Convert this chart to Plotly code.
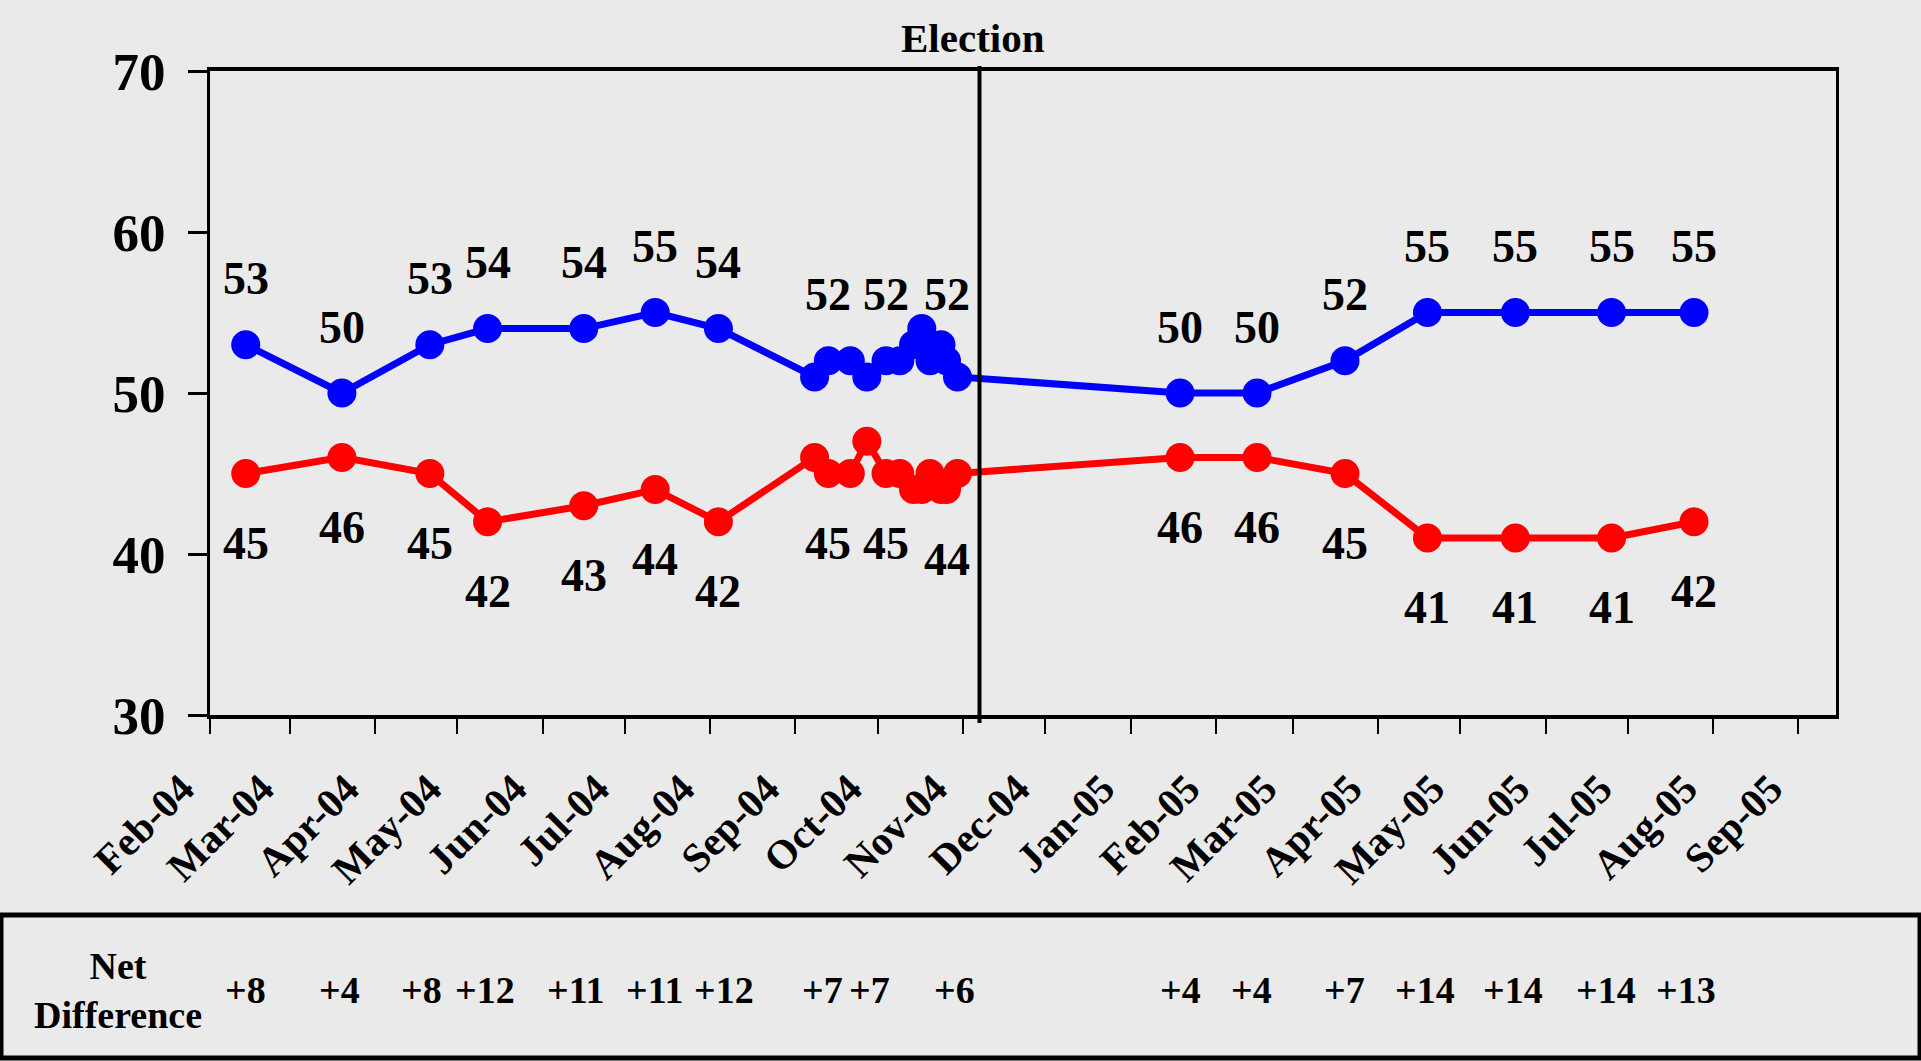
import plotly.graph_objects as go

# ---------------- data ----------------
poll_dates = [
    "2004-02-14", "2004-03-20", "2004-04-21", "2004-05-12", "2004-06-16",
    "2004-07-12", "2004-08-04",
    "2004-09-08", "2004-09-13", "2004-09-21", "2004-09-27", "2004-10-04",
    "2004-10-09", "2004-10-14", "2004-10-17", "2004-10-20", "2004-10-24",
    "2004-10-26", "2004-10-30",
    "2005-01-19", "2005-02-16", "2005-03-20", "2005-04-19", "2005-05-21",
    "2005-06-25", "2005-07-25",
]
blue_values = [53, 50, 53, 54, 54, 55, 54,
               51, 52, 52, 51, 52, 52, 53, 54, 52, 53, 52, 51,
               50, 50, 52, 55, 55, 55, 55]
red_values = [45, 46, 45, 42, 43, 44, 42,
              46, 45, 45, 47, 45, 45, 44, 44, 45, 44, 44, 45,
              46, 46, 45, 41, 41, 41, 42]
# polls that carry a printed value label
labelled_polls = [0, 1, 2, 3, 4, 5, 6, 8, 11, 17, 19, 20, 21, 22, 23, 24, 25]

net_dates = ["2004-02-14", "2004-03-19", "2004-04-18", "2004-05-11", "2004-06-13",
             "2004-07-12", "2004-08-06", "2004-09-11", "2004-09-28", "2004-10-29",
             "2005-01-19", "2005-02-14", "2005-03-20", "2005-04-18", "2005-05-20",
             "2005-06-23", "2005-07-22"]
net_values = [8, 4, 8, 12, 11, 11, 12, 7, 7, 6, 4, 4, 7, 14, 14, 14, 13]

month_ticks = ["2004-02-01", "2004-03-01", "2004-04-01", "2004-05-01", "2004-06-01",
               "2004-07-01", "2004-08-01", "2004-09-01", "2004-10-01", "2004-11-01",
               "2004-12-01", "2005-01-01", "2005-02-01", "2005-03-01", "2005-04-01",
               "2005-05-01", "2005-06-01", "2005-07-01", "2005-08-01", "2005-09-01"]
month_labels = ["Feb-04", "Mar-04", "Apr-04", "May-04", "Jun-04", "Jul-04", "Aug-04",
                "Sep-04", "Oct-04", "Nov-04", "Dec-04", "Jan-05", "Feb-05", "Mar-05",
                "Apr-05", "May-05", "Jun-05", "Jul-05", "Aug-05", "Sep-05"]
y_ticks = [30, 40, 50, 60, 70]
election_date = "2004-11-07"
election_label = "Election"
net_title = "Net<br>Difference"

# ---------------- style ----------------
BG = "#EAEAEA"
FONT = "Liberation Serif, Times New Roman, serif"
BLUE = "#0000FF"
RED = "#FF0000"

W, H = 1921, 1061
L, R, T, B = 210, 85, 71, 346
PW, PH = W - L - R, H - T - B


def py(px):  # figure pixel row -> paper y
    return (H - B - px) / PH


def pxx(px):  # figure pixel column -> paper x
    return (px - L) / PW


def bold(size):
    return dict(family=FONT, size=size, color="black", weight="bold")


fig = go.Figure()
fig.add_trace(go.Scatter(x=poll_dates, y=red_values, mode="lines+markers", name="Red",
                         line=dict(color=RED, width=7), marker=dict(size=29, color=RED),
                         cliponaxis=False))
fig.add_trace(go.Scatter(x=poll_dates, y=blue_values, mode="lines+markers", name="Blue",
                         line=dict(color=BLUE, width=7), marker=dict(size=29, color=BLUE),
                         cliponaxis=False))

ann = []
for i in labelled_polls:
    ann.append(dict(x=poll_dates[i], y=blue_values[i], xref="x", yref="y",
                    text=str(blue_values[i]), showarrow=False, yshift=66,
                    xanchor="center", yanchor="middle", font=bold(46)))
    ann.append(dict(x=poll_dates[i], y=red_values[i], xref="x", yref="y",
                    text=str(red_values[i]), showarrow=False, yshift=-70,
                    xanchor="center", yanchor="middle", font=bold(46)))

ann.append(dict(x=election_date, y=py(38), xref="x", yref="paper", text=election_label,
                showarrow=False, xshift=-6, xanchor="center", yanchor="middle",
                font=bold(41)))

ann.append(dict(x=pxx(118), y=py(990), xref="paper", yref="paper", text=net_title,
                showarrow=False, align="center", xanchor="center", yanchor="middle",
                font=bold(38)))
for d, v in zip(net_dates, net_values):
    ann.append(dict(x=d, y=py(990), xref="x", yref="paper", text=f"+{v}",
                    showarrow=False, xanchor="center", yanchor="middle",
                    font=bold(38)))

shapes = [
    dict(type="line", xref="x", yref="paper", x0=election_date, x1=election_date,
         y0=py(723), y1=py(66), line=dict(color="black", width=4)),
    dict(type="rect", xref="paper", yref="paper", x0=pxx(1), x1=pxx(1920),
         y0=py(1058), y1=py(915), line=dict(color="black", width=5)),
]

fig.update_layout(
    width=W, height=H,
    margin=dict(l=L, r=R, t=T, b=B, pad=0),
    paper_bgcolor=BG, plot_bgcolor=BG,
    showlegend=False,
    annotations=ann, shapes=shapes,
    font=dict(family=FONT, color="black", weight="bold"),
    xaxis=dict(type="date", range=["2004-02-01", "2005-09-14 16:00"],
               tickmode="array", tickvals=month_ticks, ticktext=month_labels,
               tickangle=-45, tickfont=bold(41),
               ticks="outside", ticklen=15, tickwidth=2, tickcolor="black",
               showline=True, linewidth=4, linecolor="black", mirror=True,
               showgrid=False, zeroline=False, ticklabelstandoff=14,
               ticklabelshift=-28),
    yaxis=dict(range=[30, 70], tickmode="array", tickvals=y_ticks,
               tickfont=bold(53),
               ticks="outside", ticklen=19, tickwidth=3, tickcolor="black",
               showline=True, linewidth=3, linecolor="black", mirror=True,
               showgrid=False, zeroline=False, ticklabelstandoff=12),
)

fig.write_html("out.html", config={"displayModeBar": False},
               post_script="document.body.style.margin='0';")
